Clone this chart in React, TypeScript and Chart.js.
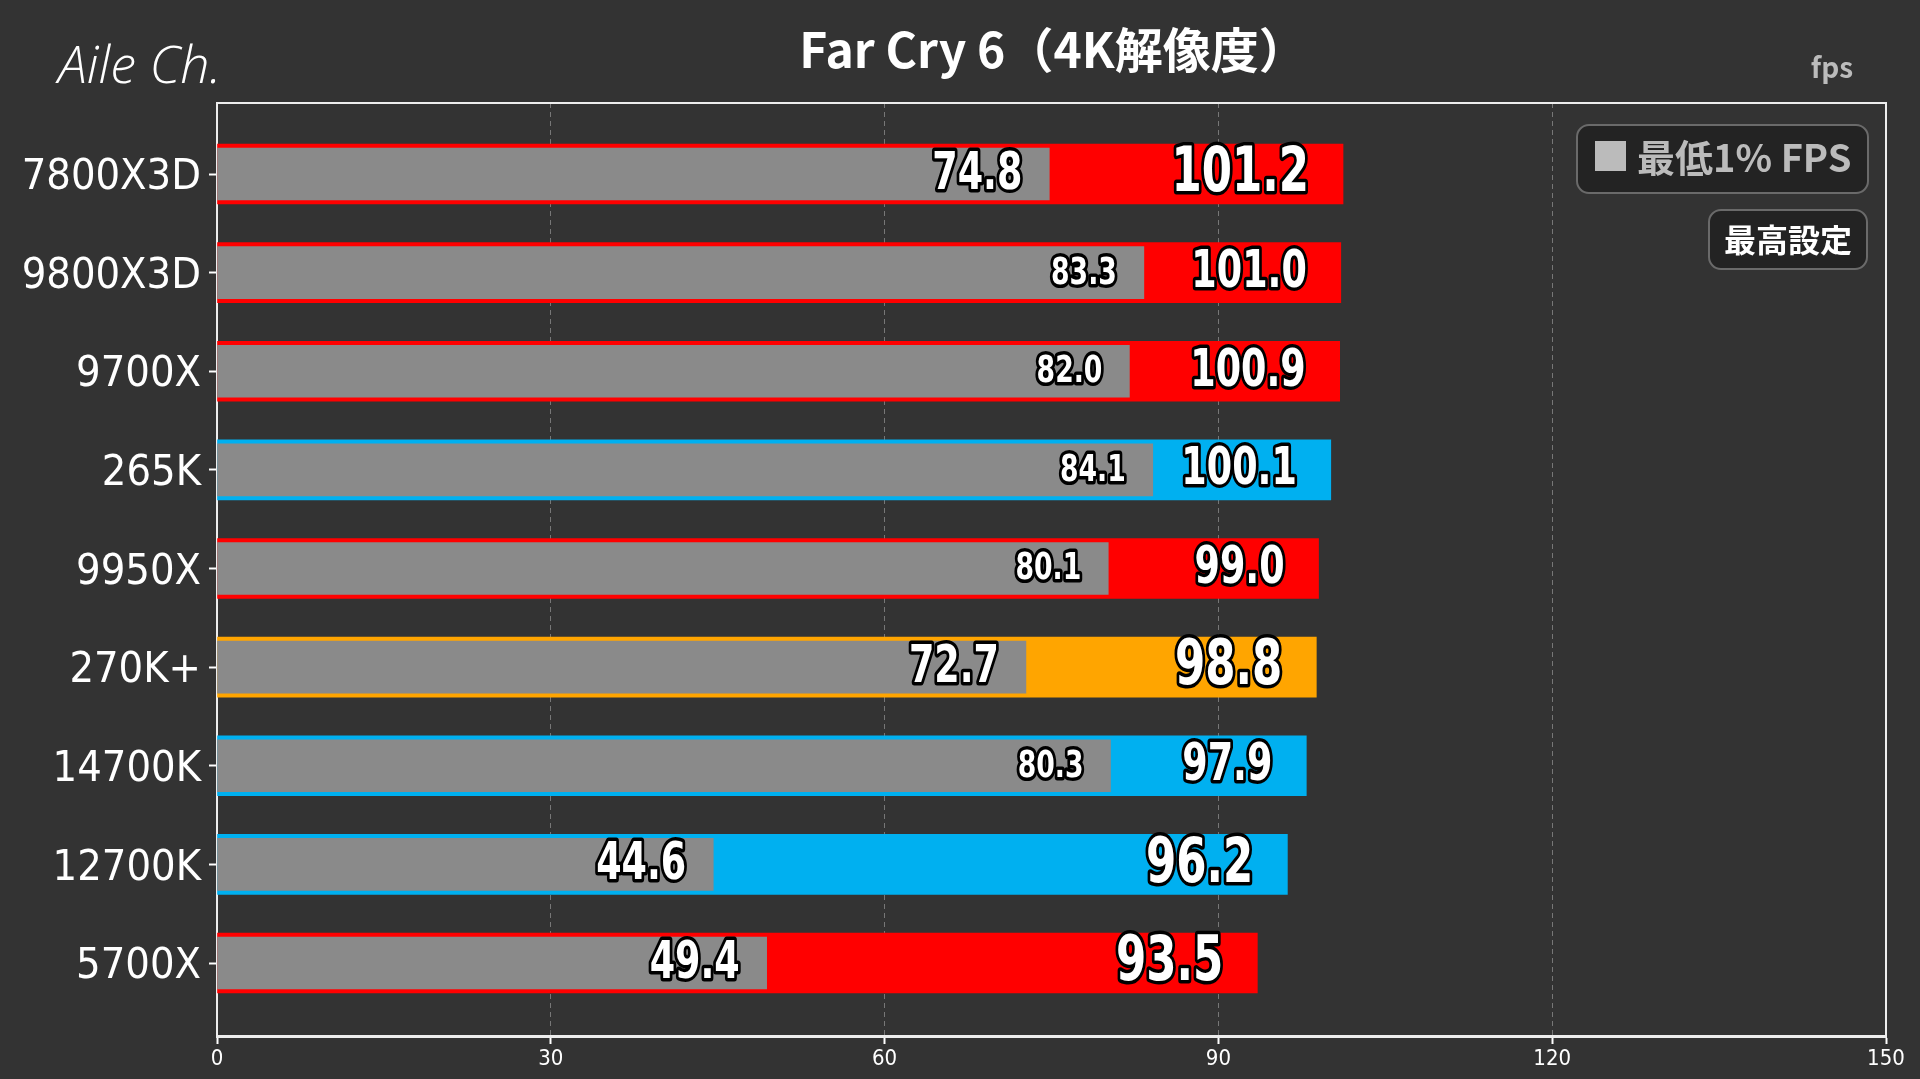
import { useEffect, useRef } from "react";
import { Chart, registerables } from "chart.js";

Chart.register(...registerables);

const cpuNames = [
  "7800X3D",
  "9800X3D",
  "9700X",
  "265K",
  "9950X",
  "270K+",
  "14700K",
  "12700K",
  "5700X",
];
const avgFps = [101.2, 101.0, 100.9, 100.1, 99.0, 98.8, 97.9, 96.2, 93.5];
const low1Fps = [74.8, 83.3, 82.0, 84.1, 80.1, 72.7, 80.3, 44.6, 49.4];
const barColors = [
  "#ff0000",
  "#ff0000",
  "#ff0000",
  "#00b0f0",
  "#ff0000",
  "#ffa500",
  "#00b0f0",
  "#00b0f0",
  "#ff0000",
];
const xTicks = [0, 30, 60, 90, 120, 150];

const COND = "'DejaVu Sans Condensed', 'Liberation Sans Narrow', sans-serif";
const CJK = "'Noto Sans CJK JP', 'Noto Sans', sans-serif";

function roundRect(ctx: CanvasRenderingContext2D, x: number, y: number, w: number, h: number, r: number) {
  ctx.beginPath();
  ctx.moveTo(x + r, y);
  ctx.lineTo(x + w - r, y);
  ctx.arcTo(x + w, y, x + w, y + r, r);
  ctx.lineTo(x + w, y + h - r);
  ctx.arcTo(x + w, y + h, x + w - r, y + h, r);
  ctx.lineTo(x + r, y + h);
  ctx.arcTo(x, y + h, x, y + h - r, r);
  ctx.lineTo(x, y + r);
  ctx.arcTo(x, y, x + r, y, r);
  ctx.closePath();
}

// white number with black outline, squeezed a little to look like a DIN face
function outlinedText(ctx: CanvasRenderingContext2D, text: string, right: number, y: number, size: number) {
  ctx.save();
  ctx.translate(right, y + 1);
  ctx.scale(0.78, 1);
  ctx.font = `bold ${size}px ${COND}`;
  ctx.textAlign = "right";
  ctx.textBaseline = "middle";
  ctx.lineJoin = "round";
  ctx.lineWidth = 7;
  ctx.strokeStyle = "#000";
  ctx.strokeText(text, 0, 0);
  ctx.fillStyle = "#fff";
  ctx.fillText(text, 0, 0);
  ctx.restore();
}

const decorPlugin = {
  id: "decor",
  beforeDraw(chart: any) {
    const { ctx, width, height } = chart;
    ctx.save();
    ctx.fillStyle = "#333333";
    ctx.fillRect(0, 0, width, height);
    ctx.restore();
  },
  beforeDatasetsDraw(chart: any) {
    const { ctx, chartArea } = chart;
    ctx.save();
    ctx.strokeStyle = "#eeeeee";
    ctx.lineWidth = 2;
    ctx.beginPath();
    ctx.moveTo(chartArea.left, chartArea.top);
    ctx.lineTo(chartArea.right, chartArea.top);
    ctx.lineTo(chartArea.right, chartArea.bottom);
    ctx.stroke();
    ctx.restore();
  },
  afterDatasetsDraw(chart: any) {
    const { ctx } = chart;
    const lowMeta = chart.getDatasetMeta(0);
    const avgMeta = chart.getDatasetMeta(1);
    avgFps.forEach((avg, i) => {
      const gap = avg - low1Fps[i];
      const big = gap >= 24;
      const aBar = avgMeta.data[i];
      const lBar = lowMeta.data[i];
      outlinedText(ctx, avg.toFixed(1), aBar.x - 34, aBar.y, big ? 62 : 52);
      outlinedText(ctx, low1Fps[i].toFixed(1), lBar.x - 27, lBar.y, big ? 52 : 38);
    });
  },
  afterDraw(chart: any) {
    const { ctx } = chart;
    ctx.save();
    // title
    ctx.fillStyle = "#ffffff";
    ctx.font = `bold 48px ${CJK}`;
    ctx.textAlign = "center";
    ctx.textBaseline = "alphabetic";
    ctx.fillText("Far Cry 6（4K解像度）", 1053, 68);

    // channel mark
    ctx.font = `italic 300 52px 'Open Sans', Lato, sans-serif`;
    ctx.textAlign = "left";
    ctx.fillText("Aile Ch.", 58, 83);

    // unit
    ctx.fillStyle = "#bbbbbb";
    ctx.font = `bold 28px ${CJK}`;
    ctx.textAlign = "right";
    ctx.fillText("fps", 1853, 78);

    // legend box
    roundRect(ctx, 1577, 125, 291, 68, 12);
    ctx.fillStyle = "#232323";
    ctx.fill();
    ctx.strokeStyle = "#6a6a6a";
    ctx.lineWidth = 2;
    ctx.stroke();
    ctx.fillStyle = "#bbbbbb";
    ctx.fillRect(1595, 141, 31, 30);
    ctx.font = `bold 38px ${CJK}`;
    ctx.textAlign = "left";
    ctx.textBaseline = "middle";
    ctx.fillText("最低1% FPS", 1637, 158);

    // settings box
    roundRect(ctx, 1709, 210, 158, 59, 12);
    ctx.fillStyle = "#232323";
    ctx.fill();
    ctx.strokeStyle = "#6a6a6a";
    ctx.stroke();
    ctx.fillStyle = "#ffffff";
    ctx.font = `bold 32px ${CJK}`;
    ctx.textAlign = "center";
    ctx.fillText("最高設定", 1788, 240);
    ctx.restore();
  },
};

export default function App() {
  const canvasRef = useRef<HTMLCanvasElement>(null);
  const chartRef = useRef<Chart | null>(null);

  useEffect(() => {
    if (!canvasRef.current) return;
    if (chartRef.current) chartRef.current.destroy();

    chartRef.current = new Chart(canvasRef.current, {
      type: "bar",
      data: {
        datasets: [
          {
            label: "最低1% FPS",
            data: low1Fps.map((v, i) => ({ x: v, y: i })),
            backgroundColor: "#8a8a8a",
            barThickness: 52,
            grouped: false,
            borderWidth: 0,
          },
          {
            label: "平均FPS",
            data: avgFps.map((v, i) => ({ x: v, y: i })),
            backgroundColor: barColors,
            barThickness: 60,
            grouped: false,
            borderWidth: 0,
          },
        ] as any,
      },
      options: {
        indexAxis: "y",
        animation: false,
        responsive: false,
        events: [],
        layout: { padding: { top: 103, right: 34, left: 0, bottom: 0 } },
        plugins: {
          legend: { display: false },
          tooltip: { enabled: false },
          title: { display: false },
        },
        scales: {
          x: {
            type: "linear",
            min: 0,
            max: 150,
            afterBuildTicks: (scale: any) => {
              scale.ticks = xTicks.map((v) => ({ value: v }));
            },
            afterFit: (scale: any) => {
              scale.height = 43;
            },
            ticks: {
              color: "#ffffff",
              padding: 2,
              font: { family: COND, size: 22 },
            },
            grid: {
              color: (c: any) =>
                c.tick && (c.tick.value === 0 || c.tick.value === 150) ? "rgba(0,0,0,0)" : "#777777",
              lineWidth: 1,
              tickColor: "#ffffff",
              tickLength: 8,
              tickWidth: 2,
            },
            border: { color: "#eeeeee", width: 3, dash: [5, 4] },
          },
          y: {
            type: "linear",
            reverse: true,
            offset: false,
            bounds: "data",
            min: -0.72,
            max: 8.74,
            afterBuildTicks: (scale: any) => {
              scale.ticks = cpuNames.map((_, i) => ({ value: i }));
            },
            afterFit: (scale: any) => {
              scale.width = 217;
            },
            ticks: {
              color: "#ffffff",
              padding: 8,
              labelOffset: 4,
              font: { family: COND, size: 43 },
              callback: (v: any) => cpuNames[v as number] ?? "",
            },
            grid: {
              offset: false,
              drawOnChartArea: false,
              tickColor: "#ffffff",
              tickLength: 8,
              tickWidth: 2,
            },
            border: { color: "#eeeeee", width: 2 },
          },
        },
      },
      plugins: [decorPlugin],
    });

    return () => {
      if (chartRef.current) {
        chartRef.current.destroy();
        chartRef.current = null;
      }
    };
  }, []);

  return (
    <div style={{ position: "fixed", left: 0, top: 0, width: 1920, height: 1079, background: "#333333" }}>
      <canvas ref={canvasRef} width={1920} height={1079} style={{ width: 1920, height: 1079 }} />
    </div>
  );
}
